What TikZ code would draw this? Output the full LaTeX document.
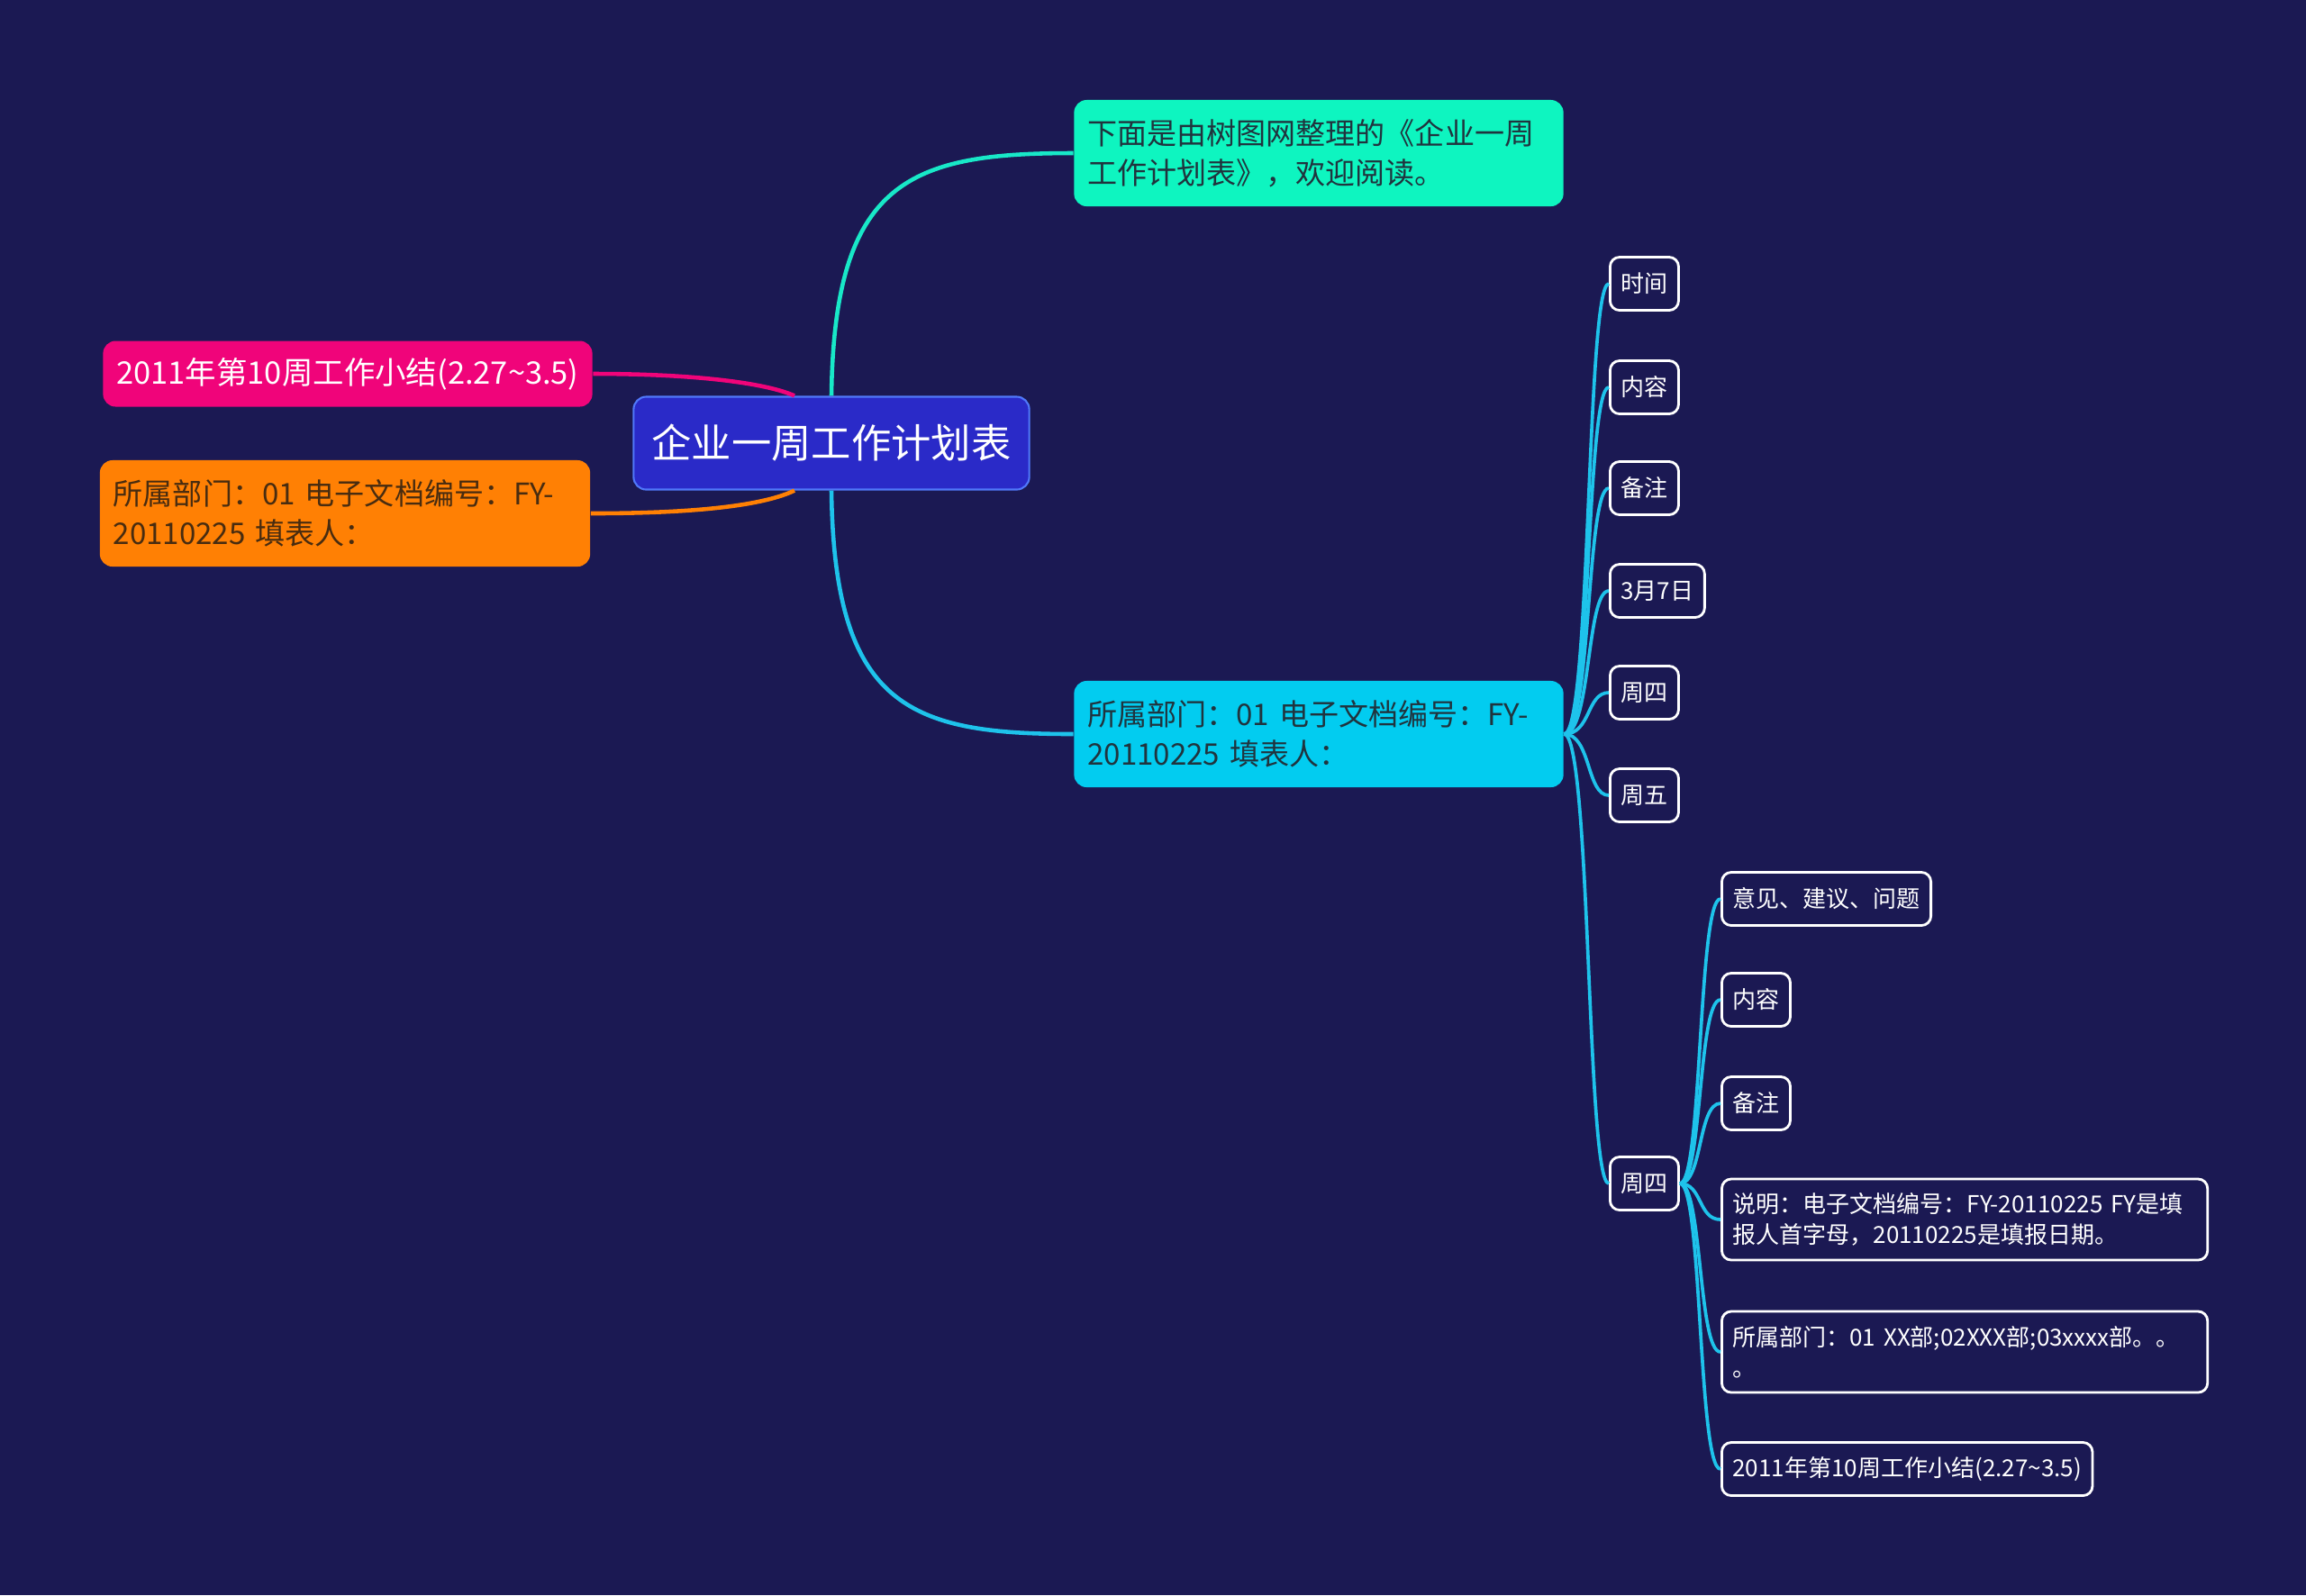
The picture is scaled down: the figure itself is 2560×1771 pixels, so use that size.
\documentclass[tikz,border=0pt]{standalone}
\usepackage{fontspec}
\setmainfont{Noto Sans CJK SC}
\usetikzlibrary{positioning,calc}
\definecolor{bgnavy}{RGB}{27,25,83}
\definecolor{rootblue}{RGB}{42,42,200}
\definecolor{rootedge}{RGB}{80,120,250}
\definecolor{aqua}{RGB}{14,245,192}
\definecolor{skycyan}{RGB}{2,204,240}
\definecolor{hotpink}{RGB}{240,4,122}
\definecolor{brightorange}{RGB}{255,128,4}
\definecolor{darktext}{RGB}{32,52,62}
\definecolor{browntext}{RGB}{72,44,16}
\definecolor{branchcyan}{RGB}{30,195,235}
\definecolor{branchaqua}{RGB}{24,232,200}
\tikzset{
  topic/.style={rounded corners=4pt,inner xsep=0.15cm,inner ysep=0pt,align=left,font=\fontsize{9.4}{12.5}\selectfont},
  rootbox/.style={topic,fill=rootblue,draw=rootedge,line width=0.6pt,text=white,align=center,minimum width=4.39cm,minimum height=1.03cm,font=\fontsize{12.6}{15}\selectfont},
  introbox/.style={topic,fill=aqua,text=darktext,minimum width=5.43cm,minimum height=1.18cm,text width=5.13cm},
  deptbox/.style={topic,fill=skycyan,text=darktext,minimum width=5.43cm,minimum height=1.18cm,text width=5.13cm},
  sumbox/.style={topic,fill=hotpink,text=white,align=center,minimum width=5.37cm,minimum height=0.73cm,font=\fontsize{9.8}{12.5}\selectfont},
  leftdept/.style={topic,fill=brightorange,text=browntext,minimum width=5.44cm,minimum height=1.18cm,text width=5.14cm},
  leaf/.style={draw=white,line width=0.8pt,rounded corners=3pt,fill=bgnavy,text=white,inner xsep=0.12cm,inner ysep=0pt,minimum height=0.59cm,font=\fontsize{7.4}{9.7}\selectfont},
  wideleaf/.style={leaf,align=left,minimum height=0.9cm,text width=5.15cm},
  branch/.style={line width=1.3pt},
  twig/.style={draw=branchcyan,line width=1.05pt}
}
\begin{document}
\begin{tikzpicture}[x=0.01cm,y=-0.01cm]
  \fill[bgnavy] (0,0) rectangle (2560,1771);
  \useasboundingbox (0,0) rectangle (2560,1771);
  % main topics
  \node[rootbox] (root) at (923,492) {企业一周工作计划表};
  \node[introbox] (intro) at (1464,170) {下面是由树图网整理的《企业一周\\工作计划表》，欢迎阅读。};
  \node[deptbox] (dept) at (1464,815) {所属部门：01 电子文档编号：FY-\\20110225 填表人：};
  \node[sumbox] (summary) at (386,415) {2011年第10周工作小结(2.27\textasciitilde3.5)};
  \node[leftdept] (deptL) at (383,570) {所属部门：01 电子文档编号：FY-\\20110225 填表人：};
  % leaves of dept
  \node[leaf,anchor=west] (time) at (1786,315) {时间};
  \node[leaf,anchor=west] (content) at (1786,430) {内容};
  \node[leaf,anchor=west] (note) at (1786,542) {备注};
  \node[leaf,anchor=west] (date) at (1786,656) {3月7日};
  \node[leaf,anchor=west] (thu) at (1786,769) {周四};
  \node[leaf,anchor=west] (fri) at (1786,883) {周五};
  \node[leaf,anchor=west] (thuB) at (1786,1314) {周四};
  % leaves of thuB
  \node[leaf,anchor=west] (advice) at (1910,998) {意见、建议、问题};
  \node[leaf,anchor=west] (contentB) at (1910,1110) {内容};
  \node[leaf,anchor=west] (noteB) at (1910,1225) {备注};
  \node[wideleaf,anchor=west] (explain) at (1910,1354) {说明：电子文档编号：FY-20110225 FY是填\\报人首字母，20110225是填报日期。};
  \node[wideleaf,anchor=west] (deptB) at (1910,1501) {所属部门：01 XX部;02XXX部;03xxxx部。。\\。};
  \node[leaf,anchor=west] (sumB) at (1910,1631) {2011年第10周工作小结(2.27\textasciitilde3.5)};
  % branches
  \draw[branch,draw=branchaqua] (root.north) .. controls (926,200) and (1010,170) .. (intro.west);
  \draw[branch,draw=branchcyan] (root.south) .. controls (926,785) and (1010,815) .. (dept.west);
  \draw[branch,draw=hotpink] (summary.east) .. controls (770,415) and (850,425) .. ($(root.north)+(-41,0)$);
  \draw[branch,draw=brightorange] (deptL.east) .. controls (780,570) and (850,560) .. ($(root.south)+(-41,0)$);
  \foreach \leafname in {time,content,note,date,thu,fri,thuB}
    \draw[twig] (dept.east) .. controls +(30,0) and +(-25,0) .. (\leafname.west);
  \foreach \leafname in {advice,contentB,noteB,explain,deptB,sumB}
    \draw[twig] (thuB.east) .. controls +(25,0) and +(-25,0) .. (\leafname.west);
\end{tikzpicture}
\end{document}
